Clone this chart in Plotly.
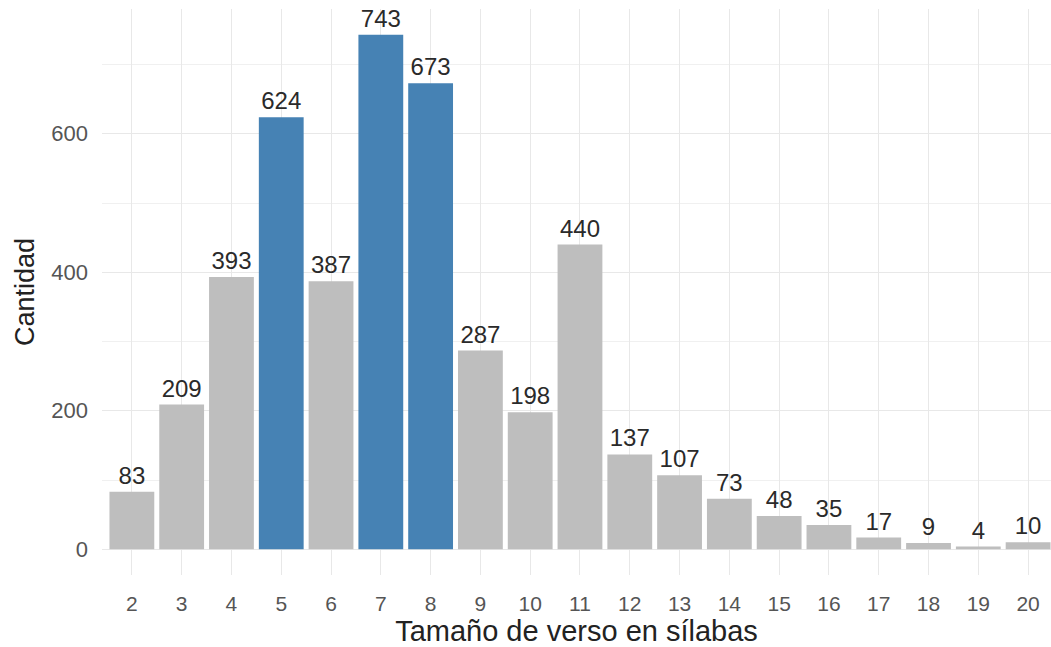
import plotly.graph_objects as go

# Verse length (syllables) and how many verses have that length
silabas = ["2", "3", "4", "5", "6", "7", "8", "9", "10", "11",
           "12", "13", "14", "15", "16", "17", "18", "19", "20"]
cantidad = [83, 209, 393, 624, 387, 743, 673, 287, 198, 440,
            137, 107, 73, 48, 35, 17, 9, 4, 10]
destacados = ["5", "7", "8"]

AZUL = "#4682B4"
GRIS = "#BEBEBE"
colores = [AZUL if s in destacados else GRIS for s in silabas]

# y range padded 5% on each side, like a ggplot continuous scale
ymax = max(cantidad)
pad = 0.05 * ymax

fig = go.Figure(
    go.Bar(
        x=silabas,
        y=cantidad,
        marker=dict(color=colores, line=dict(width=0)),
        text=[str(v) for v in cantidad],
        textposition="outside",
        textfont=dict(family="Liberation Sans, Arial, sans-serif", size=24, color="#2a2a2a"),
        constraintext="none",
        cliponaxis=False,
        hoverinfo="skip",
    )
)

fig.update_layout(
    width=1051,
    height=647,
    margin=dict(l=102, r=0, t=9, b=72),
    paper_bgcolor="white",
    plot_bgcolor="white",
    bargap=0.1,
    showlegend=False,
    font=dict(family="Liberation Sans, Arial, sans-serif"),
)

fig.update_xaxes(
    type="category",
    range=[-0.6, len(silabas) - 1 + 0.46],
    showgrid=True,
    gridcolor="#E8E8E8",
    gridwidth=1.2,
    zeroline=False,
    showline=False,
    ticks="",
    ticklabelstandoff=14,
    tickfont=dict(size=21, color="#555555"),
    title=dict(text="Tamaño de verso en sílabas",
               font=dict(size=29, color="#222222"), standoff=9),
)

fig.update_yaxes(
    range=[-pad, ymax + pad],
    tickvals=[0, 200, 400, 600],
    showgrid=True,
    gridcolor="#E8E8E8",
    gridwidth=1.2,
    minor=dict(tickvals=[100, 300, 500, 700], showgrid=True,
               gridcolor="#F0F0F0", gridwidth=1),
    zeroline=False,
    showline=False,
    ticks="",
    ticklabelstandoff=13,
    tickfont=dict(size=22, color="#555555"),
    title=dict(text="Cantidad", font=dict(size=27, color="#222222"), standoff=8),
)

fig.write_html("out.html")
